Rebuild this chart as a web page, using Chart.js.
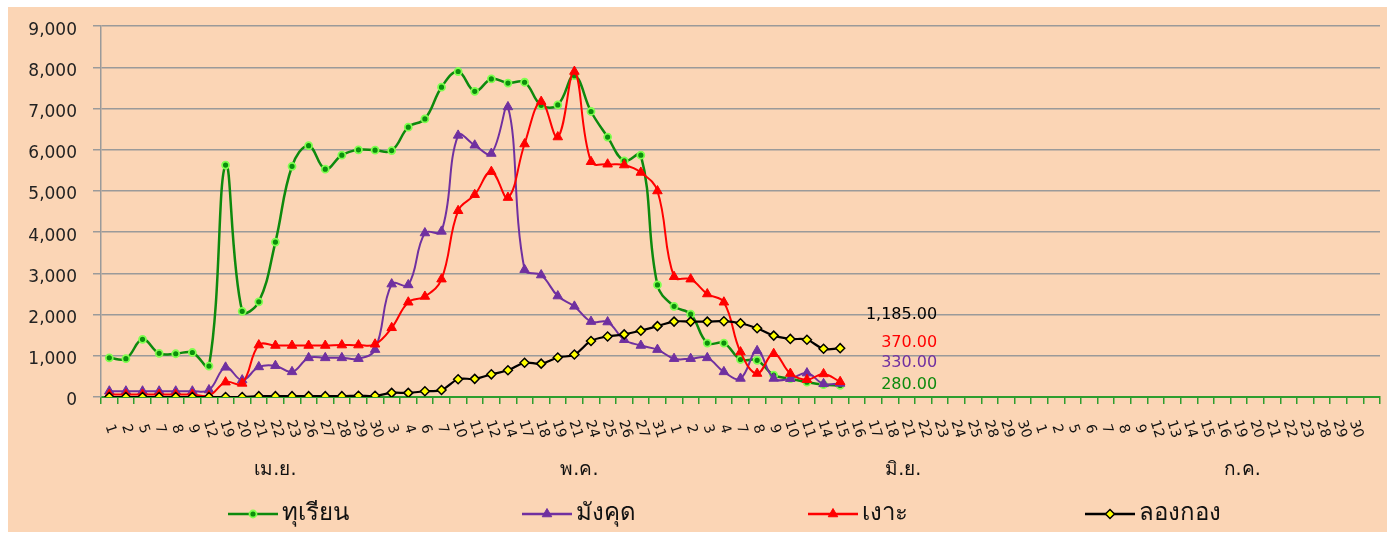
<!DOCTYPE html>
<html lang="th">
<head>
  <meta charset="UTF-8">
  <title>ราคาผลไม้</title>
  <script src="https://cdn.jsdelivr.net/npm/chart.js"></script>
  <style>
    html, body { margin: 0; padding: 0; background: #fff; }
    #wrap { width: 1394px; height: 538px; }
  </style>
</head>
<body>
  <div id="wrap"><canvas id="chart" width="1394" height="538"></canvas></div>

  <script>
    // วันที่ในแต่ละเดือน (แกน x)
    const aprDays = ['1','2','5','7','8','9','12','19','20','21','22','23','26','27','28','29','30'];
    const mayDays = ['3','4','6','7','10','11','12','14','17','18','19','21','24','25','26','27','31'];
    const junDays = ['1','2','3','4','7','8','9','10','11','14','15','16','17','18','21','22','23','24','25','28','29','30'];
    const julDays = ['1','2','5','6','7','8','9','12','13','14','15','16','19','20','21','22','23','28','29','30'];
    const monthNames = ['เม.ย.', 'พ.ค.', 'มิ.ย.', 'ก.ค.'];
    const seriesNames = ['ทุเรียน', 'มังคุด', 'เงาะ', 'ลองกอง'];

    // ค่าที่อ่านจากกราฟ (1 เม.ย. - 15 มิ.ย.)
    const durian = [950, 930, 1400, 1060, 1050, 1080, 750, 5630, 2080, 2310, 3760, 5600, 6100, 5530,
      5870, 6000, 5990, 5980, 6550, 6750, 7520, 7900, 7420, 7720, 7620, 7640, 7080, 7090,
      7800, 6930, 6310, 5730, 5870, 2720, 2200, 2010, 1310, 1310, 910, 890, 530, 445, 360, 300, 280];
    const mangosteen = [140, 140, 140, 140, 140, 140, 170, 720, 410, 730, 760, 610, 950, 950,
      950, 930, 1150, 2740, 2720, 3980, 4020, 6350, 6110, 5910, 7040, 3090, 2960, 2450,
      2200, 1830, 1820, 1390, 1250, 1150, 930, 930, 950, 610, 450, 1120, 450, 445, 580, 320, 330];
    const rambutan = [60, 60, 60, 60, 60, 60, 30, 360, 330, 1260, 1250, 1250, 1250, 1250,
      1260, 1260, 1280, 1680, 2300, 2440, 2860, 4520, 4910, 5470, 4840, 6140, 7170, 6310,
      7900, 5710, 5650, 5630, 5450, 5000, 2920, 2860, 2500, 2300, 1090, 570, 1050, 570, 420, 560, 370];
    const longkong = [0, 0, 0, 0, 0, 0, 0, 0, 0, 20, 20, 20, 20, 20,
      20, 30, 30, 100, 100, 140, 170, 430, 440, 550, 650, 830, 810, 960,
      1030, 1360, 1470, 1520, 1610, 1720, 1830, 1830, 1830, 1840, 1790, 1670, 1490, 1410, 1390, 1170, 1185];

    const yTicks = [0, 1000, 2000, 3000, 4000, 5000, 6000, 7000, 8000, 9000];

    const labels = [...aprDays, ...mayDays, ...junDays, ...julDays, ''];

    const FONT = '"DejaVu Sans", "Noto Sans", sans-serif';
    const colors = ['#0d8a0d', '#7030a0', '#ff0000', '#000000'];

    const decor = {
      id: 'decor',
      beforeDraw(chart) {
        const ctx = chart.ctx;
        ctx.save();
        ctx.fillStyle = '#fff';
        ctx.fillRect(0, 0, chart.width, chart.height);
        ctx.fillStyle = '#fbd5b5';
        ctx.fillRect(8, 7, 1379, 525);
        ctx.restore();
      },
      afterDraw(chart) {
        const ctx = chart.ctx;
        const xs = chart.scales.x;
        const ys = chart.scales.y;
        const step = xs.getPixelForValue(1) - xs.getPixelForValue(0);

        ctx.save();
        // วันที่ (เอียงลง)
        ctx.font = '14px ' + FONT;
        ctx.fillStyle = '#111';
        ctx.textAlign = 'center';
        ctx.textBaseline = 'middle';
        labels.forEach((t, i) => {
          if (!t) return;
          ctx.save();
          ctx.translate(xs.getPixelForValue(i) + 1, xs.top + 32);
          ctx.rotate(72 * Math.PI / 180);
          ctx.fillText(t, 0, 0);
          ctx.restore();
        });

        // ชื่อเดือน
        const monthAt = [10, 28.3, 47.8, 68.2];
        ctx.font = '19px ' + FONT;
        monthNames.forEach((m, k) => {
          ctx.fillText(m, xs.getPixelForValue(0) + monthAt[k] * step, 470);
        });

        // ค่าสุดท้าย
        const dy = [-1, -21, -39, -33];
        ctx.font = '16px ' + FONT;
        ctx.textAlign = 'right';
        chart.data.datasets.forEach((ds, k) => {
          const n = ds.data.length - 1;
          const v = ds.data[n];
          const px = xs.getPixelForValue(n) + 97;
          const py = ys.getPixelForValue(v) + dy[k];
          ctx.fillStyle = colors[k];
          ctx.fillText(v.toLocaleString('en-US', { minimumFractionDigits: 2, maximumFractionDigits: 2 }), px, py);
        });

        // คำอธิบายสัญลักษณ์
        const legendX = [228, 522, 808, 1085];
        const ly = 514;
        chart.data.datasets.forEach((ds, k) => {
          const x0 = legendX[k];
          ctx.strokeStyle = ds.borderColor;
          ctx.lineWidth = 2.5;
          ctx.beginPath();
          ctx.moveTo(x0, ly);
          ctx.lineTo(x0 + 50, ly);
          ctx.stroke();
          ctx.fillStyle = ds.pointBackgroundColor;
          ctx.strokeStyle = ds.pointBorderColor;
          ctx.lineWidth = ds.pointBorderWidth;
          Chart.helpers.drawPoint(ctx, {
            pointStyle: ds.pointStyle,
            radius: ds.pointRadius,
            borderWidth: ds.pointBorderWidth
          }, x0 + 25, ly);
          ctx.fillStyle = '#111';
          ctx.textAlign = 'left';
          ctx.font = '24px ' + FONT;
          ctx.fillText(ds.label, x0 + 54, ly);
        });
        ctx.restore();
      }
    };

    new Chart(document.getElementById('chart'), {
      type: 'line',
      data: {
        labels: labels,
        datasets: [
          {
            label: seriesNames[0], data: durian, order: 3,
            borderColor: colors[0], borderWidth: 2.5, tension: 0.4,
            pointStyle: 'circle', pointRadius: 3.5, pointBorderWidth: 1.8,
            pointBackgroundColor: '#0b8f0b', pointBorderColor: '#80ff50'
          },
          {
            label: seriesNames[1], data: mangosteen, order: 2,
            borderColor: colors[1], borderWidth: 2, tension: 0.4,
            pointStyle: 'triangle', pointRadius: 5.5, pointBorderWidth: 1,
            pointBackgroundColor: colors[1], pointBorderColor: colors[1]
          },
          {
            label: seriesNames[2], data: rambutan, order: 1,
            borderColor: colors[2], borderWidth: 2, tension: 0.4,
            pointStyle: 'triangle', pointRadius: 5.5, pointBorderWidth: 1,
            pointBackgroundColor: colors[2], pointBorderColor: colors[2]
          },
          {
            label: seriesNames[3], data: longkong, order: 0,
            borderColor: colors[3], borderWidth: 2.2, tension: 0.4,
            pointStyle: 'rectRot', pointRadius: 4.5, pointBorderWidth: 1.5,
            pointBackgroundColor: '#ffff00', pointBorderColor: '#000'
          }
        ]
      },
      options: {
        responsive: false,
        animation: false,
        devicePixelRatio: 1,
        layout: { padding: { left: 0, right: 14, top: 23, bottom: 0 } },
        plugins: { legend: { display: false }, tooltip: { enabled: false } },
        scales: {
          x: {
            offset: true,
            grid: { offset: true, drawOnChartArea: false, color: '#2e9e2e', tickLength: 7, lineWidth: 1.5 },
            border: { color: '#2e9e2e', width: 2 },
            ticks: { display: false, autoSkip: false },
            afterFit: s => { s.height = 141; }
          },
          y: {
            min: 0, max: 9000,
            afterBuildTicks: s => { s.ticks = yTicks.map(v => ({ value: v })); },
            ticks: {
              padding: 16, labelOffset: 4, color: '#222',
              font: { family: FONT, size: 17 },
              callback: v => v.toLocaleString('en-US')
            },
            grid: {
              color: c => (c.tick && c.tick.value === 0) ? 'rgba(0,0,0,0)' : '#9a9a9a',
              tickColor: '#9a9a9a', lineWidth: 1.5, tickLength: 8
            },
            border: { color: '#9a9a9a', width: 1.5 },
            afterFit: s => { s.width = 101; }
          }
        }
      },
      plugins: [decor]
    });
  </script>
</body>
</html>
